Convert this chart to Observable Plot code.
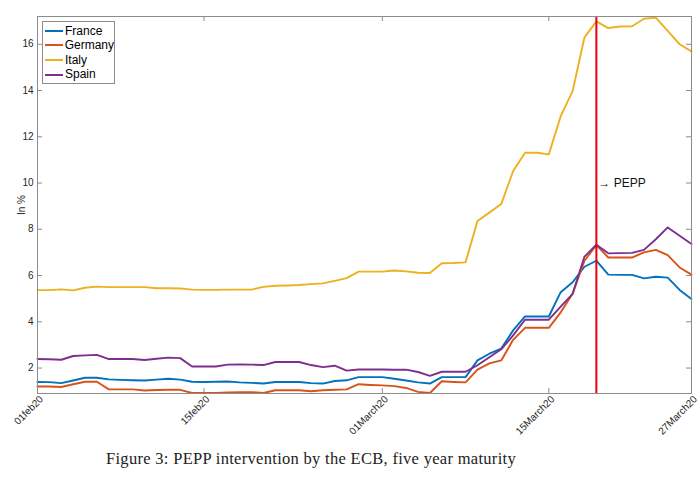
<!DOCTYPE html>
<html>
<head>
<meta charset="utf-8">
<script src="https://cdn.jsdelivr.net/npm/d3@7"></script>
<script src="https://cdn.jsdelivr.net/npm/@observablehq/plot@0.6"></script>
<style>
  body { margin: 0; background: #fff; }
  #wrap { position: relative; width: 700px; height: 481px; }
  #legend { position: absolute; left: 42px; top: 21px; width: 71px; height: 59px; padding-top: 1.5px;
    border: 1px solid #8c8c8c; background: #fff; font: 12px "Liberation Sans", Arial, sans-serif; color: #000; }
  #legend div { height: 14.6px; line-height: 14.6px; display: flex; align-items: center; white-space: nowrap; }
  #legend span.sw { display: inline-block; width: 18px; height: 2px; margin: 0 2px 0 2px; }
  #caption { position: absolute; left: 106px; top: 449px; letter-spacing: 0.3px;
    font: 16.5px "Liberation Serif", "DejaVu Serif", serif; color: #222; white-space: nowrap; }
</style>
</head>
<body>
<div id="wrap">
  <div id="chart"></div>
  <div id="legend"></div>
  <div id="caption">Figure 3: PEPP intervention by the ECB, five year maturity</div>
</div>
<script>
// rendimientos a 5 años, datos diarios 01feb20 - 27mar20 (fines de semana repiten el viernes)
const countries = ['France', 'Germany', 'Italy', 'Spain']
const colors = ['#0072BD', '#D95319', '#EDB120', '#7E2F8E']

const dates = d3.utcDay.range(new Date('2020-02-01'), new Date('2020-03-28'))

const france = [1.40, 1.39, 1.35, 1.46, 1.58, 1.58, 1.51, 1.49, 1.47, 1.46, 1.50, 1.54, 1.50, 1.41,
  1.40, 1.41, 1.42, 1.38, 1.36, 1.33, 1.40, 1.40, 1.40, 1.35, 1.33, 1.44, 1.47, 1.61,
  1.61, 1.61, 1.54, 1.46, 1.38, 1.33, 1.61, 1.61, 1.61, 2.33, 2.62, 2.84, 3.63, 4.23,
  4.23, 4.23, 5.28, 5.71, 6.38, 6.64, 6.04, 6.03, 6.03, 5.88, 5.95, 5.91, 5.38, 4.99]
const germany = [1.20, 1.20, 1.18, 1.30, 1.41, 1.41, 1.08, 1.08, 1.08, 1.03, 1.05, 1.06, 1.06, 0.92,
  0.92, 0.92, 0.95, 0.96, 0.96, 0.92, 1.04, 1.04, 1.04, 1.00, 1.04, 1.06, 1.08, 1.30,
  1.27, 1.25, 1.22, 1.14, 0.97, 0.92, 1.43, 1.40, 1.38, 1.93, 2.20, 2.33, 3.22, 3.74,
  3.74, 3.74, 4.41, 5.21, 6.64, 7.32, 6.78, 6.78, 6.78, 7.00, 7.11, 6.88, 6.35, 6.04]
const italy = [5.37, 5.37, 5.40, 5.36, 5.47, 5.52, 5.50, 5.50, 5.50, 5.50, 5.45, 5.45, 5.44, 5.39,
  5.38, 5.38, 5.39, 5.39, 5.39, 5.51, 5.56, 5.57, 5.59, 5.63, 5.66, 5.77, 5.89, 6.17,
  6.17, 6.17, 6.22, 6.18, 6.12, 6.11, 6.53, 6.54, 6.57, 8.36, 8.72, 9.09, 10.52, 11.31,
  11.31, 11.24, 12.89, 13.97, 16.30, 16.99, 16.70, 16.77, 16.78, 17.10, 17.15, 16.58, 16.00, 15.69]
const spain = [2.39, 2.38, 2.36, 2.52, 2.55, 2.57, 2.39, 2.39, 2.39, 2.35, 2.40, 2.45, 2.43, 2.07,
  2.07, 2.07, 2.15, 2.16, 2.15, 2.13, 2.26, 2.26, 2.26, 2.13, 2.04, 2.10, 1.89, 1.94,
  1.94, 1.94, 1.93, 1.93, 1.83, 1.66, 1.84, 1.84, 1.84, 2.12, 2.47, 2.81, 3.41, 4.09,
  4.09, 4.09, 4.66, 5.21, 6.82, 7.33, 6.96, 6.97, 6.98, 7.11, 7.57, 8.08, 7.72, 7.36]

const tickDates = ['2020-02-01', '2020-02-15', '2020-03-01', '2020-03-15', '2020-03-27'].map(d => new Date(d))
const tickLabels = ['01feb20', '15feb20', '01March20', '15March20', '27March20']
const yTicks = [2, 4, 6, 8, 10, 12, 14, 16]
const peppDate = new Date('2020-03-19')

const series = [france, germany, italy, spain]
const rows = countries.flatMap((c, k) => series[k].map((v, i) => ({date: dates[i], country: c, value: v})))

const W = 700, H = 440, mL = 37, mR = 9, mT = 16, mB = 47
const innerW = W - mL - mR, innerH = H - mT - mB

let chart = Plot.plot({
  width: W,
  height: H,
  marginLeft: mL,
  marginRight: mR,
  marginTop: mT,
  marginBottom: mB,
  x: {type: 'utc', domain: [dates[0], dates[dates.length - 1]], label: null},
  y: {domain: [0.9, 17.2], label: null},
  color: {domain: countries, range: colors},
  style: {fontFamily: 'Liberation Sans, Arial, sans-serif', fontSize: '10px', color: '#262626', background: 'white'},
  marks: [
    // ticks hacia adentro, estilo matlab
    Plot.tickX(tickDates, {x: d => d, insetTop: innerH - 5, stroke: '#8c8c8c'}),
    Plot.tickX(tickDates, {x: d => d, insetBottom: innerH - 5, stroke: '#8c8c8c'}),
    Plot.tickY(yTicks, {y: d => d, insetRight: innerW - 5, stroke: '#8c8c8c'}),
    Plot.tickY(yTicks, {y: d => d, insetLeft: innerW - 5, stroke: '#8c8c8c'}),
    Plot.axisY(yTicks, {anchor: 'left', tickSize: 0, tickPadding: 4, label: 'In %', labelAnchor: 'center', labelOffset: 20, labelArrow: false}),
    Plot.axisX(tickDates, {anchor: 'bottom', tickSize: 0, tickPadding: 4, tickRotate: -45, dx: 4,
      tickFormat: d => tickLabels[tickDates.findIndex(t => +t === +d)]}),
    Plot.line(rows, {x: 'date', y: 'value', z: 'country', stroke: 'country', strokeWidth: 1.9}),
    Plot.ruleX([peppDate], {stroke: '#e8000b', strokeWidth: 2}),
    Plot.text([peppDate], {x: d => d, y: 10, text: () => '\u2192 PEPP', textAnchor: 'start', dx: 2, fontSize: 12, fill: '#111'}),
    Plot.frame({stroke: '#8c8c8c'}),
  ],
})

d3.select('#chart').append(() => chart)

d3.select('#legend').selectAll('div')
  .data(countries)
  .join('div')
  .html((c, i) => `<span class="sw" style="background:${colors[i]}"></span>${c}`)
</script>
</body>
</html>
